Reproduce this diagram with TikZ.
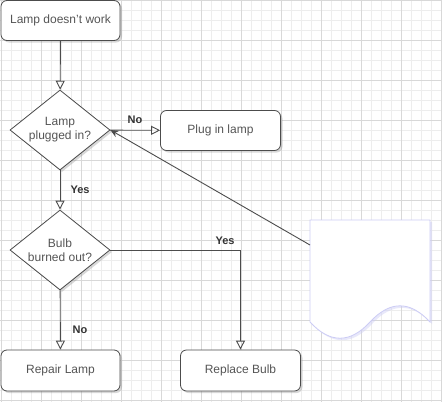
\documentclass[tikz,border=0pt]{standalone}
\usepackage{fontspec}
\setmainfont{Liberation Sans}
\usetikzlibrary{arrows.meta,shapes.geometric,shadows}
\definecolor{txtgray}{HTML}{555555}
\definecolor{gridminor}{HTML}{EDEDED}
\definecolor{gridmajor}{HTML}{D8D8D8}
\definecolor{docline}{HTML}{CCCCF5}

\begin{document}
\begin{tikzpicture}[>=Stealth, x=1pt, y=-1pt,
	shade/.style={drop shadow={shadow xshift=2pt, shadow yshift=-2pt, opacity=0.3}},
	stepbox/.style={draw=black!70, fill=white, rounded corners=6pt, line width=0.8pt,
		minimum width=120pt, minimum height=40pt, inner sep=0pt, text=txtgray,
		font=\fontsize{12}{14}\selectfont, shade},
	decision/.style={draw=black!70, fill=white, shape=diamond, aspect=1.25, line width=0.8pt,
		minimum width=100pt, minimum height=80pt, inner sep=0pt, align=center, text=txtgray,
		font=\fontsize{12}{14}\selectfont, shade},
	lbl/.style={font=\fontsize{11}{13}\selectfont\bfseries, text=black!80, inner sep=1pt},
	flow/.style={draw=black!70, line width=0.9pt, -{Triangle[open,length=9pt,width=9pt]}}]
			\useasboundingbox (0,0) rectangle (442,402);
			\fill[white] (0,0) rectangle (442,402);
			\foreach \i in {1,11,...,441} \draw[gridminor, line width=0.5pt] (\i,0) -- (\i,402);
			\foreach \j in {0,10,...,400} \draw[gridminor, line width=0.5pt] (0,\j) -- (442,\j);
			\foreach \i in {1,41,...,441} \draw[gridmajor, line width=0.6pt] (\i,0) -- (\i,402);
			\foreach \j in {0,40,...,400} \draw[gridmajor, line width=0.6pt] (0,\j) -- (442,\j);
			
			\node[stepbox, minimum width=119pt] (start) at (60.5,20.5) {Lamp doesn't work};
			\node[decision] (plugged) at (60,130) {Lamp\\plugged in?};
			\node[stepbox] (plugin) at (220.5,130.5) {Plug in lamp};
			\node[decision] (burned) at (60,250) {Bulb\\burned out?};
			\node[stepbox, minimum width=119pt, minimum height=41pt] (repair) at (60.5,370.5) {Repair Lamp};
			\node[stepbox, minimum height=41pt] (replace) at (240.5,370.5) {Replace Bulb};
			
			\draw[draw=docline, fill=white, line width=0.8pt,
				drop shadow={shadow xshift=2pt, shadow yshift=-2pt, opacity=0.45, fill=docline}]
			(310,220) -- (430,220) -- (430,322)
			.. controls (410,300.4) and (390,300.4) .. (370,322)
			.. controls (350,343.6) and (330,343.6) .. (310,322)
			-- cycle;
			\coordinate (docin) at (310,245);
			
			\draw[flow] (start) -- (plugged);
			\draw[flow] (plugged) -- (plugin);
			\draw[flow] (plugged) -- (burned);
			\draw[flow] (burned) -- (repair);
			\draw[flow] (burned.east) -| (replace.north);
			\draw[draw=black!70, line width=0.9pt, -{Stealth[length=8pt,width=7pt]}] (docin) -- (plugged.east);
			
			\node[lbl] (no1) at (135,120) {No};
			\node[lbl] (yes1) at (80,190) {Yes};
			\node[lbl] (yes2) at (225,241) {Yes};
			\node[lbl] (no2) at (80,330) {No};
		\end{tikzpicture}
\end{document}
